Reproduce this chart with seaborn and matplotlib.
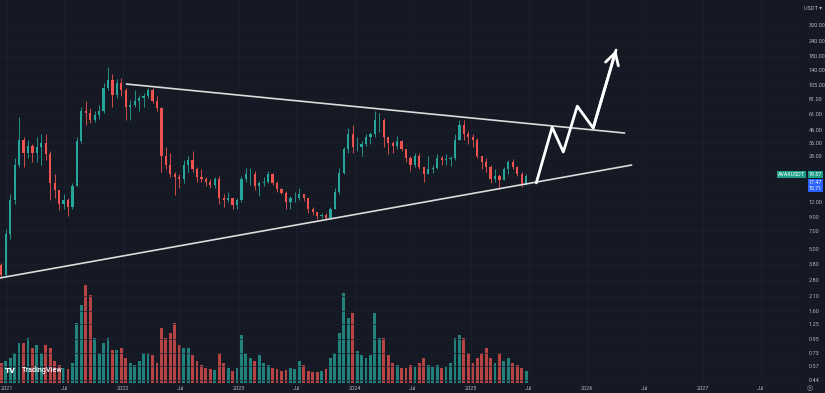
import pandas as pd
import numpy as np
import matplotlib
matplotlib.use("Agg")
import matplotlib.pyplot as plt
import matplotlib.dates as mdates
from matplotlib.ticker import FixedLocator, NullLocator, FuncFormatter
import seaborn as sns

# two-week candles, AVAXUSDT
symbol = "AVAXUSDT"
start_date = "2020-12-14"

open_ = [3.7, 3.1, 6.6, 12.5, 24, 38, 30, 34, 30, 33,
         36, 29, 17, 15, 11.5, 12.5, 11, 16, 37, 65,
         62, 55, 60, 65, 100, 115, 88, 110, 95, 70,
         72, 78, 82, 85, 95, 78, 68, 28, 24, 20,
         19, 18.5, 24, 26, 22, 19, 18.5, 17.5, 16.5, 18.5,
         13, 12.5, 13, 11.3, 12.5, 18.5, 20, 20, 16, 17,
         17.5, 20, 17.2, 15.2, 14.3, 12, 12.8, 13, 13.8, 12.8,
         10.5, 10, 9.3, 9.4, 8.9, 10.5, 14.5, 20.5, 32, 42,
         33, 33, 35, 40, 42, 55, 55, 40, 36, 34,
         37, 32, 27, 24, 28, 23, 20, 22, 22.5, 27,
         26, 26.5, 27, 38, 50, 42, 40, 38, 28, 25,
         23, 18.5, 19.5, 18, 22, 25, 23, 20, 16.5]
high = [3.9, 7.2, 14, 27, 58, 40, 38, 35, 40, 42,
        42, 31, 20, 15, 14, 13, 17, 40, 70, 78,
        68, 65, 72, 110, 146, 130, 118, 120, 100, 80,
        95, 88, 90, 100, 100, 85, 70, 33, 30, 21,
        20, 26, 28, 31, 23, 22, 19, 18.5, 19, 19.5,
        14, 14.5, 13, 12.8, 19.5, 22.5, 22.5, 21.5, 17.8, 19,
        21.5, 20.5, 17.8, 15.5, 14.8, 13.5, 14.5, 15.5, 14, 13,
        11, 10, 9.7, 9.7, 11, 15.5, 22.5, 33, 47, 50,
        40, 37, 42, 44, 65, 62, 57, 40, 37, 41,
        38, 32, 28, 30, 30, 23, 28, 24, 29, 28,
        29, 28, 42, 55, 55, 45, 42, 39, 28, 27,
        24, 22, 20, 23, 26, 26.5, 23.5, 21, 20]
low = [2.9, 3.0, 6, 11.5, 23, 23, 27, 25, 25, 24,
       26, 12.5, 13, 10.3, 10.5, 9.3, 10.5, 16, 36, 50,
       52, 53, 56, 62, 95, 70, 82, 85, 55, 55,
       70, 65, 70, 82, 75, 65, 21, 22, 19, 13.7,
       15.5, 17, 21, 21, 17.5, 17.5, 16, 15.5, 15.5, 11.5,
       11, 12, 10.5, 10.5, 12, 17.5, 16.5, 15, 13.5, 16,
       17, 16.5, 14.5, 13.8, 10.5, 10.5, 12, 12.5, 12.3, 9.8,
       9.5, 8.8, 8.9, 8.6, 8.7, 10.5, 14, 20, 30, 30,
       31, 28, 34, 35, 40, 44, 33, 29, 30, 32,
       31, 25, 21.5, 23, 22, 17.5, 20, 20.5, 22, 24,
       24, 23.5, 26, 38, 38, 35, 33, 27, 22, 21,
       17, 17.5, 15.3, 18, 20, 22, 19.5, 15.8, 16.5]
close = [3.1, 6.6, 12.5, 24, 38, 30, 34, 30, 33, 36,
         29, 17, 15, 11.5, 12.5, 11, 16, 37, 65, 62,
         55, 60, 65, 100, 115, 88, 110, 95, 70, 72,
         78, 82, 85, 95, 78, 68, 28, 24, 20, 19,
         18.5, 24, 26, 22, 19, 18.5, 17.5, 16.5, 18.5, 13,
         12.5, 13, 11.3, 12.5, 18.5, 20, 20, 16, 17, 17.5,
         20, 17.2, 15.2, 14.3, 12, 12.8, 13, 13.8, 12.8, 10.5,
         10, 9.3, 9.4, 8.9, 10.5, 14.5, 20.5, 32, 42, 33,
         33, 35, 40, 42, 55, 55, 40, 36, 34, 37,
         32, 27, 24, 28, 23, 20, 22, 22.5, 27, 26,
         26.5, 27, 38, 50, 42, 40, 38, 28, 25, 23,
         18.5, 19.5, 18, 22, 25, 23, 20, 16.5, 19.57]
# volume, relative units
volume = [20, 22, 25, 30, 40, 40, 45, 35, 38, 30,
          38, 35, 22, 18, 15, 14, 20, 60, 78, 98,
          88, 45, 30, 40, 45, 33, 33, 35, 25, 20,
          18, 22, 30, 30, 28, 20, 55, 45, 50, 60,
          38, 35, 35, 28, 22, 18, 15, 14, 13, 30,
          20, 15, 12, 15, 48, 30, 25, 22, 28, 20,
          18, 15, 14, 12, 13, 15, 14, 22, 18, 12,
          11, 11, 12, 14, 25, 30, 50, 90, 65, 70,
          32, 28, 25, 28, 70, 45, 45, 28, 20, 18,
          15, 15, 18, 16, 20, 25, 18, 16, 18, 15,
          16, 20, 45, 48, 45, 30, 20, 25, 30, 35,
          25, 20, 30, 22, 25, 20, 18, 15, 12]

price_ticks = [320, 240, 180, 140, 105, 81, 61, 46, 36, 28, 21, 16, 12,
               9, 7, 5, 3.8, 2.8, 2.1, 1.6, 1.25, 0.95, 0.73, 0.57, 0.44]
hidden_ticks = [21, 16]   # covered by the price tags
date_ticks = ["2021-01-01", "2021-07-01", "2022-01-01", "2022-07-01",
              "2023-01-01", "2023-07-01", "2024-01-01", "2024-07-01",
              "2025-01-01", "2025-07-01", "2026-01-01", "2026-07-01",
              "2027-01-01", "2027-07-01"]
date_labels = ["2021", "Jul", "2022", "Jul", "2023", "Jul", "2024", "Jul",
               "2025", "Jul", "2026", "Jul", "2027", "Jul"]

# drawn trendlines and projected path
top_line_dates = ["2022-01-12", "2026-04-29"]
top_line_prices = [107, 43.1]
bottom_line_dates = ["2020-12-10", "2026-05-21"]
bottom_line_prices = [2.93, 23.8]
path_dates = ["2025-07-25", "2025-09-13", "2025-10-18", "2025-12-01",
              "2026-01-20", "2026-04-02"]
path_prices = [17.1, 48, 30.3, 71, 47.3, 201]

# last price tags on the scale
last_price = 19.57
tag_prices = [17.47, 15.71]

BG = "#151924"
UP = "#26a69a"
DOWN = "#ef5350"
TXT = "#b2b5be"


def main():
    sns.set_theme(style="dark", rc={"axes.facecolor": BG, "figure.facecolor": BG})
    plt.rcParams["font.family"] = ["Roboto", "DejaVu Sans"]

    df = pd.DataFrame({"open": open_, "high": high, "low": low,
                       "close": close, "volume": volume})
    df["date"] = pd.date_range(start_date, periods=len(df), freq="14D")
    up = df["close"] >= df["open"]
    colors = np.where(up, UP, DOWN)

    fig = plt.figure(figsize=(8.25, 3.93), dpi=100)
    ax = fig.add_axes([0, 10 / 393, 800 / 825, 383 / 393])
    vax = ax.twinx()
    vax.set_facecolor(BG)
    ax.set_zorder(vax.get_zorder() + 1)
    ax.patch.set_visible(False)

    # volume overlay
    vax.bar(df["date"], df["volume"], width=9, color=colors, alpha=0.75, linewidth=0)
    vax.set_ylim(0, 383)
    vax.set_yticks([])
    for s in vax.spines.values():
        s.set_visible(False)

    ax.set_yscale("log")
    # candles
    ax.vlines(df["date"], df["low"], df["high"], colors=colors, linewidth=0.6, zorder=3)
    body_low = df[["open", "close"]].min(axis=1)
    body_h = (df["close"] - df["open"]).abs()
    ax.bar(df["date"], body_h, bottom=body_low, width=7, color=colors,
           linewidth=0, zorder=4)

    # trendlines
    sns.lineplot(x=pd.to_datetime(top_line_dates), y=top_line_prices, ax=ax,
                 color="#dcdcdc", linewidth=1.2, zorder=5)
    sns.lineplot(x=pd.to_datetime(bottom_line_dates), y=bottom_line_prices, ax=ax,
                 color="#dcdcdc", linewidth=1.2, zorder=5)
    pdates = pd.to_datetime(path_dates)
    sns.lineplot(x=pdates, y=path_prices, ax=ax, color="white", linewidth=2,
                 sort=False, zorder=6)
    ax.annotate("", xy=(mdates.date2num(pdates[-1]), path_prices[-1]),
                xytext=(mdates.date2num(pdates[-2]), path_prices[-2]),
                arrowprops=dict(arrowstyle="->,head_length=0.7,head_width=0.4",
                                color="white", lw=2, shrinkA=0, shrinkB=0),
                zorder=6)

    ax.set_xlim(pd.Timestamp("2020-12-10"), pd.Timestamp("2027-11-02"))
    ax.set_ylim(0.417, 509)
    ax.set_xlabel("")
    ax.set_ylabel("")

    ax.yaxis.tick_right()
    ax.yaxis.set_major_locator(FixedLocator(price_ticks))
    ax.yaxis.set_minor_locator(NullLocator())
    ax.yaxis.set_major_formatter(
        FuncFormatter(lambda v, _: "" if round(v, 2) in hidden_ticks else f"{v:.2f}"))
    ax.set_xticks(pd.to_datetime(date_ticks))
    ax.set_xticklabels(date_labels)
    ax.xaxis.set_minor_locator(NullLocator())
    ax.tick_params(axis="y", length=0, pad=6, labelsize=4, labelcolor=TXT,
                   right=False, labelright=True, labelleft=False)
    ax.tick_params(axis="x", length=0, pad=2, labelsize=4, labelcolor=TXT)
    ax.grid(True, color="#1d2130", linewidth=0.5)
    for s in ax.spines.values():
        s.set_visible(False)

    # last price tags, stacked on the price scale
    tag = dict(xycoords=("axes fraction", "data"), textcoords="offset points",
               fontsize=3.8, color="white", va="center", annotation_clip=False,
               zorder=10)
    green = dict(boxstyle="square,pad=0.18", fc="#1e9e89", ec="none")
    blue = dict(boxstyle="square,pad=0.18", fc="#2962ff", ec="none")
    ax.annotate(symbol, xy=(0.989, last_price), xytext=(0, 1), ha="center",
                bbox=green, **tag)
    ax.annotate(f"{last_price:.2f}", xy=(1.019, last_price), xytext=(0, 1),
                ha="center", bbox=green, **tag)
    for p in tag_prices:
        ax.annotate(f"{p:.2f}", xy=(1.019, p), xytext=(0, -0.5), ha="center",
                    bbox=blue, **tag)

    fig.text(0.985, 0.985, "USDT ▾", ha="center", va="top", fontsize=4, color=TXT)
    fig.text(0.982, 0.012, "◎", ha="center", va="center", fontsize=5, color="#9598a1",
             family=["DejaVu Sans"])
    fig.text(0.006, 0.058, "TV", ha="left", va="center", fontsize=6, color="white",
             fontweight="heavy")
    fig.text(0.027, 0.058, "TradingView", ha="left", va="center", fontsize=5.2,
             color="white", fontweight="medium")

    fig.savefig("out.png", dpi=100, facecolor=BG)


if __name__ == "__main__":
    main()
